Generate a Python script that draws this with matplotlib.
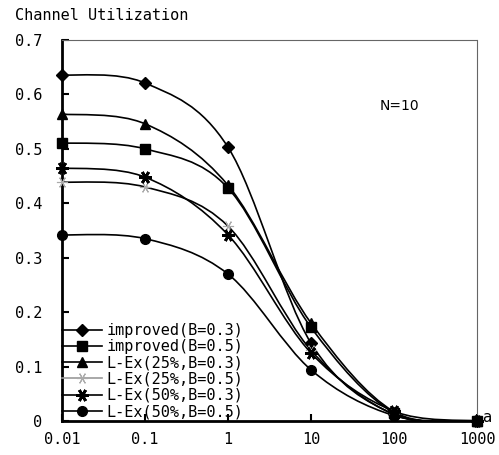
import numpy as np
import matplotlib
matplotlib.use('Agg')
import matplotlib.pyplot as plt
from matplotlib.path import Path
from matplotlib.patches import PathPatch
from matplotlib.lines import Line2D

# data
x_vals = [0.01, 0.1, 1, 10, 100, 1000]
x_labels = ['0.01', '0.1', '1', '10', '100', '1000']
improved_b03 = [0.636, 0.621, 0.503, 0.143, 0.012, 0.0]
improved_b05 = [0.511, 0.500, 0.428, 0.172, 0.015, 0.0]
lex25_b03 = [0.564, 0.546, 0.433, 0.180, 0.017, 0.0]
lex25_b05 = [0.439, 0.430, 0.358, 0.130, 0.012, 0.0]
lex50_b03 = [0.465, 0.448, 0.342, 0.125, 0.018, 0.0]
lex50_b05 = [0.342, 0.335, 0.270, 0.094, 0.010, 0.0]
y_ticks = [0, 0.1, 0.2, 0.3, 0.4, 0.5, 0.6, 0.7]
y_labels = ['0', '0.1', '0.2', '0.3', '0.4', '0.5', '0.6', '0.7']

series = [
    ('improved(B=0.3)', improved_b03, dict(marker='D', ms=6, mfc='black', mec='black')),
    ('improved(B=0.5)', improved_b05, dict(marker='s', ms=7, mfc='black', mec='black')),
    ('L-Ex(25%,B=0.3)', lex25_b03, dict(marker='^', ms=7, mfc='black', mec='black')),
    ('L-Ex(25%,B=0.5)', lex25_b05, dict(marker=(6, 2, 90), ms=8, mfc='#aaaaaa', mec='#aaaaaa', mew=0.8)),
    ('L-Ex(50%,B=0.3)', lex50_b03, dict(marker=(6, 2, 90), ms=9, mfc='black', mec='black', mew=2)),
    ('L-Ex(50%,B=0.5)', lex50_b05, dict(marker='o', ms=7, mfc='black', mec='black')),
]

mono = 'DejaVu Sans Mono'


def smooth_path(xs, ys):
    # catmull-rom -> cubic bezier, done in log10(x) space
    lx = np.log10(xs)
    pts = np.column_stack([lx, ys])
    p = np.vstack([pts[0], pts, pts[-1]])
    verts = [pts[0]]
    codes = [Path.MOVETO]
    for i in range(1, len(p) - 2):
        c1 = p[i] + (p[i + 1] - p[i - 1]) / 6
        c2 = p[i + 1] - (p[i + 2] - p[i]) / 6
        verts += [c1, c2, p[i + 1]]
        codes += [Path.CURVE4] * 3
    verts = np.array(verts)
    verts[:, 0] = 10 ** verts[:, 0]
    return Path(verts, codes)


fig = plt.figure(figsize=(4.99, 4.55), dpi=100)
ax = fig.add_axes([62 / 499, 1 - 421 / 455, (477 - 62) / 499, (421 - 40) / 455])
ax.set_xscale('log')
ax.set_xlim(0.01, 1000)
ax.set_ylim(0, 0.7)

handles = []
for name, ys, style in series:
    ax.add_patch(PathPatch(smooth_path(x_vals, ys), fill=False, edgecolor='black', lw=1.2, zorder=2))
    ax.plot(x_vals, ys, ls='none', zorder=3, clip_on=False, **style)
    lc = '#999999' if name == 'L-Ex(25%,B=0.5)' else 'black'
    handles.append(Line2D([], [], color=lc, lw=1.2, label=name, **style))

ax.legend(handles=handles, loc='lower left', bbox_to_anchor=(0.0, 0.005), frameon=False,
          borderaxespad=0, borderpad=0, handlelength=2.6, handletextpad=0.3,
          labelspacing=0.08, prop={'family': mono, 'size': 11})

for s in ['left', 'bottom']:
    ax.spines[s].set_linewidth(2)
for s in ['top', 'right']:
    ax.spines[s].set_linestyle((0, (1, 1)))
    ax.spines[s].set_linewidth(0.8)
    ax.spines[s].set_color('#666666')

ax.set_xticks(x_vals)
ax.set_xticklabels(x_labels, family=mono, fontsize=11)
ax.minorticks_off()
ax.set_yticks(y_ticks)
ax.set_yticklabels(y_labels, family=mono, fontsize=11)
ax.tick_params(axis='both', direction='in', length=5, width=1.5)
ax.tick_params(axis='x', pad=8)
ax.tick_params(axis='y', pad=14)

fig.text(15 / 499, 1 - 15 / 455, 'Channel Utilization', family=mono, fontsize=11, va='center', ha='left')
fig.text(380 / 499, 1 - 106 / 455, 'N=10', fontsize=10, va='center', ha='left')
ax.text(1.012, 0.008, 'a', transform=ax.transAxes, fontsize=11, va='center', ha='left')

fig.savefig('out.png', dpi=100)
